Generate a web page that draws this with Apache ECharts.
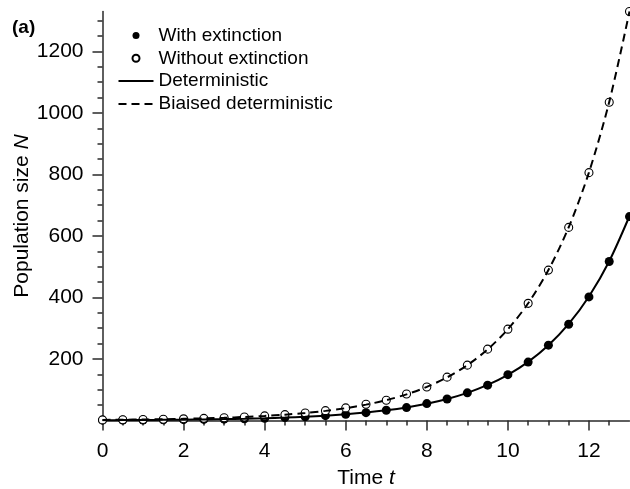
<!DOCTYPE html>
<html>
<head>
<meta charset="utf-8">
<script src="https://cdn.jsdelivr.net/npm/echarts@6/dist/echarts.min.js"></script>
<style>html,body{margin:0;padding:0;background:#fff}#c{width:630px;height:489px}</style>
</head>
<body>
<div id="c"></div>
<script>
// Time points
const times = [0,0.5,1,1.5,2,2.5,3,3.5,4,4.5,5,5.5,6,6.5,7,7.5,8,8.5,9,9.5,10,10.5,11,11.5,12,12.5,13];
// Simulated means
const withExtinction = [1,1.3,1.6,2.1,2.7,3.5,4.4,5.8,7.3,9.6,12.1,15.7,20,25.6,33.4,42,55,70,90,115,149,190,245,313,402,517,663];
const withoutExtinction = [2,2.6,3.3,4.2,5.4,7.0,9.0,11.6,14.9,19.2,24.6,32,41,53,66,86,109,141,180,232,297,381,489,628,806,1035,1330];
// Deterministic curves
const deterministic = [1,1.28,1.65,2.12,2.72,3.49,4.48,5.75,7.39,9.49,12.2,15.6,20.1,25.8,33.1,42.5,54.6,70.1,90,115.6,148.4,190.6,244.7,314.2,403.4,518,665];
const biasedDeterministic = [2,2.57,3.30,4.23,5.44,6.98,8.96,11.5,14.8,19.0,24.4,31.3,40.2,51.6,66.2,85,109.2,140.2,180,231.2,296.8,381.1,489.4,628.4,806.9,1036,1330];
// Tick values
const xMajorTicks = [0,2,4,6,8,10,12];
const xMinorTicks = [0.5,1,1.5,2.5,3,3.5,4.5,5,5.5,6.5,7,7.5,8.5,9,9.5,10.5,11,11.5,12.5];
const yMajorTicks = [200,400,600,800,1000,1200];
const yMinorTicks = [50,100,150,250,300,350,450,500,550,650,700,750,850,900,950,1050,1100,1150,1250,1300];
const legendNames = ['With extinction','Without extinction','Deterministic','Biaised deterministic'];

const FONT = "'Liberation Sans', Arial, Helvetica, sans-serif";
const AX = '#2a2a2a';
const pairs = (xs, ys) => xs.map((x, i) => [x, ys[i]]);

const chart = echarts.init(document.getElementById('c'), null, {renderer: 'canvas'});
const baseX = {
  type: 'value', min: 0, max: 13, gridIndex: 0, position: 'bottom',
  splitLine: {show: false}
};
const baseY = {
  type: 'value', min: 0, max: 1330, gridIndex: 0, position: 'left',
  splitLine: {show: false}
};
chart.setOption({
  animation: false,
  backgroundColor: '#fff',
  title: {
    text: '(a)', left: 12, top: 18, padding: 0,
    textStyle: {fontFamily: FONT, fontSize: 19, fontWeight: 'bold', color: '#000'}
  },
  grid: {left: 102.5, right: 0.5, top: 11.5, bottom: 68.5, containLabel: false, outerBoundsMode: 'none'},
  legend: {
    orient: 'vertical', left: 117.5, top: 26, padding: 0,
    itemWidth: 35, itemHeight: 7, itemGap: 3.8,
    selectedMode: false,
    textStyle: {fontFamily: FONT, fontSize: 19, color: '#000', lineHeight: 19},
    data: [
      {name: legendNames[0]},
      {name: legendNames[1]},
      {name: legendNames[2], itemStyle: {opacity: 0}},
      {name: legendNames[3], itemStyle: {opacity: 0}}
    ]
  },
  xAxis: [
    Object.assign({}, baseX, {
      name: '{a|Time }{b|t}', nameLocation: 'middle', nameGap: 47, nameMoveOverlap: false,
      nameTextStyle: {fontFamily: FONT, fontSize: 21, color: '#000',
        rich: {a: {fontFamily: FONT, fontSize: 21, color: '#000'}, b: {fontFamily: FONT, fontSize: 21, fontStyle: 'italic', color: '#000'}}},
      axisLine: {show: true, onZero: false, lineStyle: {color: AX, width: 1.5}},
      axisTick: {show: true, length: 10, customValues: xMajorTicks, lineStyle: {color: AX, width: 1.5}},
      axisLabel: {show: true, margin: 20, customValues: xMajorTicks, formatter: v => String(v), fontFamily: FONT, fontSize: 21, color: '#000'}
    }),
    Object.assign({}, baseX, {
      axisLine: {show: false},
      axisTick: {show: true, length: 5, customValues: xMinorTicks, lineStyle: {color: AX, width: 1.5}},
      axisLabel: {show: false}
    })
  ],
  yAxis: [
    Object.assign({}, baseY, {
      name: '{a|Population size }{b|N}', nameLocation: 'middle', nameGap: 70, nameMoveOverlap: false,
      nameTextStyle: {fontFamily: FONT, fontSize: 21, color: '#000',
        rich: {a: {fontFamily: FONT, fontSize: 21, color: '#000'}, b: {fontFamily: FONT, fontSize: 21, fontStyle: 'italic', color: '#000'}}},
      axisLine: {show: true, onZero: false, lineStyle: {color: AX, width: 1.5}},
      axisTick: {show: true, length: 10, customValues: yMajorTicks, lineStyle: {color: AX, width: 1.5}},
      axisLabel: {show: true, margin: 19, customValues: yMajorTicks, formatter: v => String(v), fontFamily: FONT, fontSize: 21, color: '#000'}
    }),
    Object.assign({}, baseY, {
      axisLine: {show: false},
      axisTick: {show: true, length: 5, customValues: yMinorTicks, lineStyle: {color: AX, width: 1.5}},
      axisLabel: {show: false}
    })
  ],
  series: [
    {
      name: legendNames[0], type: 'scatter', xAxisIndex: 0, yAxisIndex: 0,
      data: pairs(times, withExtinction), symbol: 'circle', symbolSize: 9,
      itemStyle: {color: '#000', opacity: 1}, z: 2
    },
    {
      name: legendNames[1], type: 'scatter', xAxisIndex: 0, yAxisIndex: 0,
      data: pairs(times, withoutExtinction), symbol: 'circle', symbolSize: 8,
      itemStyle: {color: '#fff', borderColor: '#000', borderWidth: 1.1, opacity: 1}, z: 3
    },
    {
      name: legendNames[2], type: 'line', xAxisIndex: 0, yAxisIndex: 0,
      data: pairs(times, deterministic), symbol: 'none', smooth: 0.3,
      lineStyle: {color: '#000', width: 2, type: 'solid'}, itemStyle: {color: '#000'}, z: 4
    },
    {
      name: legendNames[3], type: 'line', xAxisIndex: 0, yAxisIndex: 0,
      data: pairs(times, biasedDeterministic), symbol: 'none', smooth: 0.3,
      lineStyle: {color: '#000', width: 2, type: [8, 5]}, itemStyle: {color: '#000'}, z: 4
    }
  ]
});
</script>
</body>
</html>
